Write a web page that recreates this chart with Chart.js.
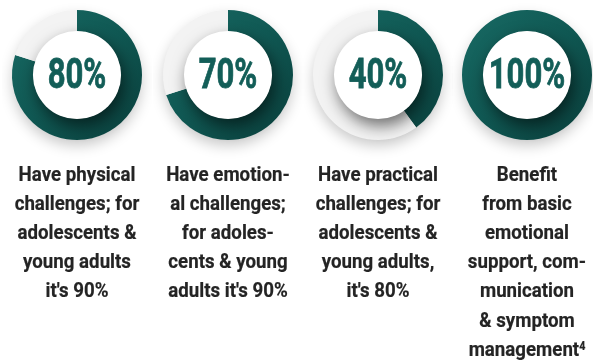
<!DOCTYPE html>
<html><head><meta charset="utf-8">
<script src="https://cdn.jsdelivr.net/npm/chart.js@4.4.1/dist/chart.umd.min.js"></script>
<style>
html,body{margin:0;padding:0;background:#fff;}
#wrap{position:relative;width:593px;height:360px;overflow:hidden;background:#fff;}
.col{position:absolute;top:0;width:150px;height:360px;}
.col canvas{position:absolute;left:0;top:0;}
.pct{position:absolute;left:0;top:51px;width:150px;text-align:center;font-family:Roboto,sans-serif;font-weight:700;font-size:42px;line-height:46px;color:#135e58;-webkit-text-stroke:0.8px #135e58;transform:scaleX(0.74);white-space:nowrap;}
.desc{position:absolute;left:-20px;top:159.5px;width:190px;text-align:center;font-family:Roboto,sans-serif;font-weight:700;font-size:21px;line-height:29.2px;color:#242424;-webkit-text-stroke:0.2px #242424;transform:scaleX(0.89);white-space:nowrap;}
.desc sup{font-size:12px;vertical-align:top;position:relative;top:-3px;}
</style>
</head><body>
<div id="wrap"></div>
<script>
// ---- data ----
const categories = ["Physical challenges","Emotional challenges","Practical challenges","Benefit from support"];
const values = [80, 70, 40, 100];
const valueLabels = ["80%", "70%", "40%", "100%"];
const descLines = [
  ["Have physical","challenges; for","adolescents &","young adults","it's 90%"],
  ["Have emotion-","al challenges;","for adoles-","cents & young","adults it's 90%"],
  ["Have practical","challenges; for","adolescents &","young adults,","it's 80%"],
  ["Benefit","from basic","emotional","support, com-","munication","& symptom","management<sup>4</sup>"]
];
// ---- layout ----
const centersX = [77, 228, 378, 527];

const ringPlugin = {
  id: 'ring',
  beforeDatasetsDraw(chart) {
    const meta = chart.getDatasetMeta(0);
    const arc = meta.data[0];
    const {x, y, outerRadius} = arc.getProps(['x','y','outerRadius'], true);
    const ctx = chart.ctx;
    ctx.save();
    ctx.shadowColor = 'rgba(0,0,0,0.22)';
    ctx.shadowBlur = 14;
    ctx.shadowOffsetY = 6;
    ctx.beginPath();
    ctx.arc(x, y, outerRadius - 0.5, 0, Math.PI * 2);
    ctx.fillStyle = '#f3f3f3';
    ctx.fill();
    ctx.restore();
  },
  afterDatasetsDraw(chart) {
    const meta = chart.getDatasetMeta(0);
    const arc = meta.data[0];
    const {x, y, innerRadius} = arc.getProps(['x','y','innerRadius'], true);
    const ctx = chart.ctx;
    ctx.save();
    ctx.shadowColor = 'rgba(0,0,0,0.55)';
    ctx.shadowBlur = 16;
    ctx.shadowOffsetX = 3;
    ctx.shadowOffsetY = 7;
    ctx.beginPath();
    ctx.arc(x, y, innerRadius + 0.5, 0, Math.PI * 2);
    ctx.fillStyle = '#ffffff';
    ctx.fill();
    ctx.restore();
  }
};

const wrap = document.getElementById('wrap');
values.forEach((v, i) => {
  const col = document.createElement('div');
  col.className = 'col';
  col.style.left = (centersX[i] - 75) + 'px';
  const cv = document.createElement('canvas');
  cv.width = 150; cv.height = 170;
  cv.style.width = '150px'; cv.style.height = '170px';
  col.appendChild(cv);
  const pct = document.createElement('div');
  pct.className = 'pct';
  pct.textContent = valueLabels[i];
  col.appendChild(pct);
  const desc = document.createElement('div');
  desc.className = 'desc';
  desc.innerHTML = descLines[i].join('<br>');
  col.appendChild(desc);
  wrap.appendChild(col);

  new Chart(cv.getContext('2d'), {
    type: 'doughnut',
    data: {
      labels: [categories[i], 'Other'],
      datasets: [{
        data: [v, 100 - v],
        backgroundColor(c) {
          if (c.dataIndex === 1) return '#f3f3f3';
          const ch = c.chart, a = ch.chartArea;
          if (!a) return '#115a55';
          const g = ch.ctx.createLinearGradient(a.left, a.top, a.right, a.bottom);
          g.addColorStop(0, '#186a64');
          g.addColorStop(0.5, '#105853');
          g.addColorStop(1, '#0a3f3c');
          return g;
        },
        borderWidth: 0,
        hoverOffset: 0
      }]
    },
    options: {
      responsive: false,
      animation: false,
      cutout: '67%',
      layout: { padding: { left: 10, right: 10, top: 10, bottom: 30 } },
      plugins: { legend: { display: false }, tooltip: { enabled: false } },
      events: []
    },
    plugins: [ringPlugin]
  });
});
</script>
</body></html>
